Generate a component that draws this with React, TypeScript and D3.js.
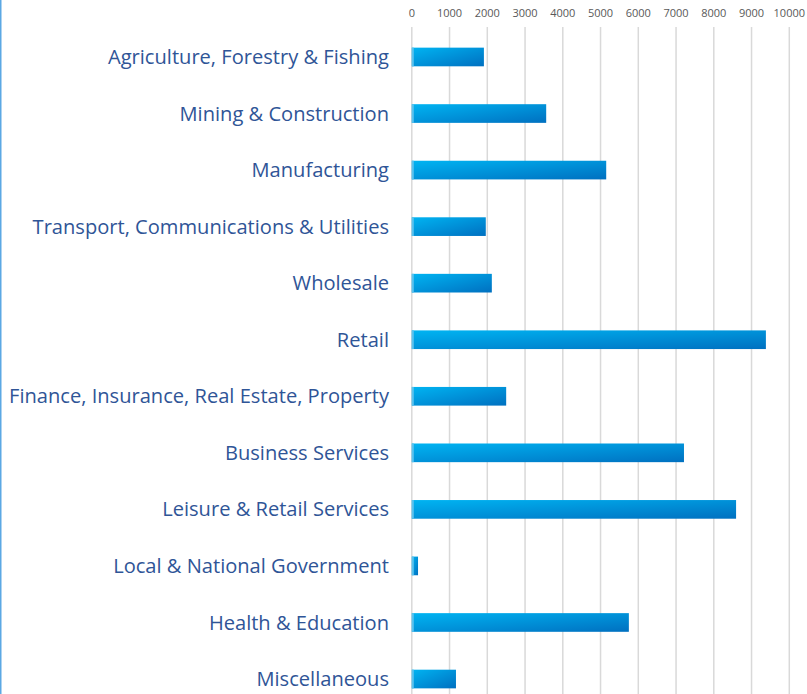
import { useEffect, useRef } from 'react';
import * as d3 from 'd3';

const categories = [
  'Agriculture, Forestry & Fishing',
  'Mining & Construction',
  'Manufacturing',
  'Transport, Communications & Utilities',
  'Wholesale',
  'Retail',
  'Finance, Insurance, Real Estate, Property',
  'Business Services',
  'Leisure & Retail Services',
  'Local & National Government',
  'Health & Education',
  'Miscellaneous',
];

const values = [1910, 3560, 5150, 1960, 2120, 9380, 2500, 7210, 8590, 165, 5750, 1170];

const xTicks = [0, 1000, 2000, 3000, 4000, 5000, 6000, 7000, 8000, 9000, 10000];

const width = 807;
const height = 694;

const App = () => {
  const svgRef = useRef<SVGSVGElement>(null);

  useEffect(() => {
    if (!svgRef.current) return;
    const svg = d3.select(svgRef.current);
    svg.selectAll('*').remove();

    const x = d3.scaleLinear().domain([0, 10000]).range([411.8, 789.3]);
    const y = d3.scaleBand()
      .domain(categories)
      .range([28.7, 707.3])
      .paddingInner(0.67)
      .paddingOuter(0.335);

    // gradient for bars
    const defs = svg.append('defs');
    const grad = defs.append('linearGradient')
      .attr('id', 'barGrad')
      .attr('x1', '0').attr('y1', '0')
      .attr('x2', '1').attr('y2', '1');
    grad.append('stop').attr('offset', '0%').attr('stop-color', '#00b4f2');
    grad.append('stop').attr('offset', '100%').attr('stop-color', '#0070c0');

    // left border line
    svg.append('rect')
      .attr('x', 0).attr('y', 0)
      .attr('width', 1.5).attr('height', height)
      .attr('fill', '#5ba8e4');

    // gridlines
    svg.append('g')
      .selectAll('line')
      .data(xTicks)
      .join('line')
      .attr('x1', d => x(d))
      .attr('x2', d => x(d))
      .attr('y1', 27)
      .attr('y2', height)
      .attr('stroke', '#d9d9d9')
      .attr('stroke-width', 1.5);

    // tick labels
    svg.append('g')
      .selectAll('text')
      .data(xTicks)
      .join('text')
      .attr('x', d => x(d))
      .attr('y', 17)
      .attr('text-anchor', 'middle')
      .style('font-family', 'Open Sans, sans-serif')
      .style('font-size', '11px')
      .style('fill', '#595959')
      .text(d => String(d));

    // bars
    const bars = svg.append('g')
      .selectAll('g')
      .data(categories)
      .join('g');

    bars.append('rect')
      .attr('x', x(0))
      .attr('y', d => y(d) || 0)
      .attr('width', (d, i) => x(values[i]) - x(0))
      .attr('height', y.bandwidth())
      .attr('fill', 'url(#barGrad)');

    bars.append('rect')
      .attr('x', x(0))
      .attr('y', d => y(d) || 0)
      .attr('width', 2)
      .attr('height', y.bandwidth())
      .attr('fill', '#5cc3ee');

    // category labels
    svg.append('g')
      .selectAll('text')
      .data(categories)
      .join('text')
      .attr('x', 389)
      .attr('y', d => (y(d) || 0) + y.bandwidth() / 2)
      .attr('dy', '0.35em')
      .attr('text-anchor', 'end')
      .style('font-family', 'Open Sans, sans-serif')
      .style('font-size', '20.1px')
      .style('fill', '#2f5597')
      .text(d => d);
  }, []);

  return (
    <svg
      ref={svgRef}
      width={width}
      height={height}
      style={{ position: 'absolute', left: 0, top: 0, background: '#fff' }}
    />
  );
};

export default App;
